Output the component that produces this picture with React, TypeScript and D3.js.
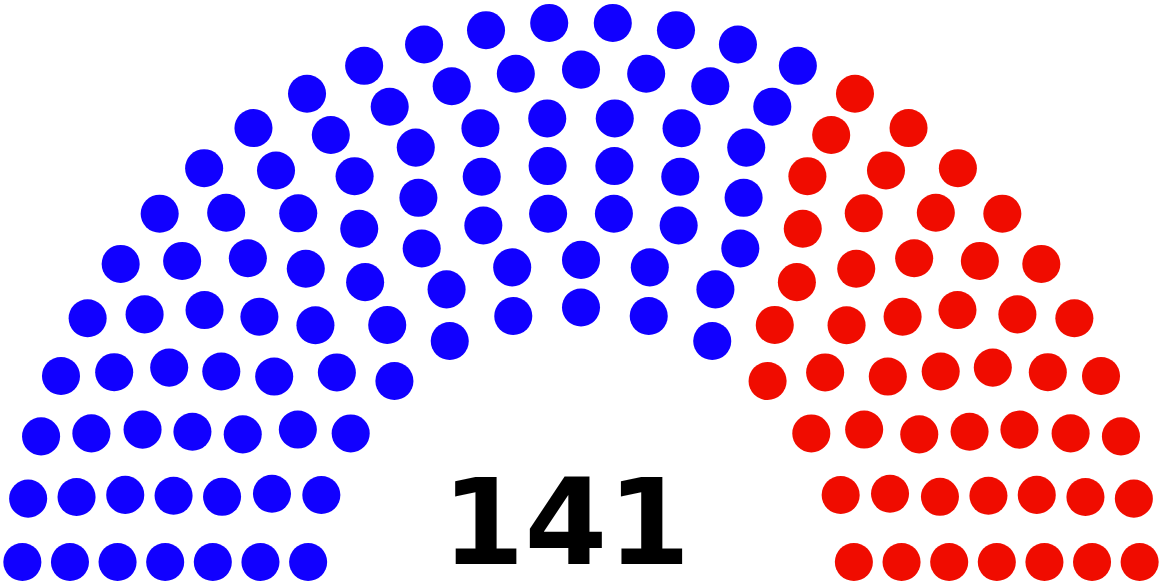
import React from "react";
import * as d3 from "d3";

// ---- data ----
const partyNames: string[] = ["Blue", "Red"];
const partySeats: number[] = [92, 49];
const totalLabel: string = "141";

// Seat-capacity totals used by the classic parliament-diagram layout
const rowTotals: number[] = [3, 15, 33, 61, 95, 138, 189, 247, 313, 388, 469];

// ---- style ----
const WIDTH = 1163;
const HEIGHT = 584;
const partyColors: Record<string, string> = { Blue: "#1100ff", Red: "#f00c00" };

type Seat = { angle: number; x: number; y: number; r: number };

function layoutSeats(total: number): { seats: Seat[]; dotR: number; outerR: number } {
  let rows = 1;
  for (let i = 0; i < rowTotals.length; i++) {
    if (rowTotals[i] >= total) {
      rows = i + 1;
      break;
    }
  }
  const radius = 0.4 / rows;
  const seats: Seat[] = [];
  const pushRow = (J: number, R: number) => {
    if (J === 1) {
      seats.push({ angle: Math.PI / 2, x: R * Math.cos(Math.PI / 2), y: R, r: R });
      return;
    }
    for (let j = 0; j < J; j++) {
      const a0 = Math.sin(radius / R);
      const angle = (j * (Math.PI - 2 * a0)) / (J - 1) + a0;
      seats.push({ angle, x: R * Math.cos(angle), y: R * Math.sin(angle), r: R });
    }
  };
  for (let i = 1; i < rows; i++) {
    const J = Math.floor(
      (total / rowTotals[rows - 1]) * Math.PI / (2 * Math.asin(2 / (3 * rows + 4 * i - 2)))
    );
    const R = (3 * rows + 4 * i - 2) / (4 * rows);
    pushRow(J, R);
  }
  const Rlast = (7 * rows - 2) / (4 * rows);
  pushRow(total - seats.length, Rlast);
  seats.sort((a, b) => b.angle - a.angle || b.x - a.x);
  return { seats, dotR: radius, outerR: Rlast };
}

export default function App() {
  const total = d3.sum(partySeats);
  const { seats, dotR, outerR } = layoutSeats(total);

  const scale = 333;
  const cx = 581;
  const baseY = 581;
  const xScale = d3.scaleLinear().domain([-outerR, outerR]).range([cx - outerR * scale, cx + outerR * scale]);
  const yScale = d3.scaleLinear().domain([0, outerR]).range([baseY, baseY - outerR * scale]);

  const cum = d3.cumsum(partySeats);
  const partyOf = (idx: number) => {
    for (let p = 0; p < cum.length; p++) if (idx < cum[p]) return partyNames[p];
    return partyNames[partyNames.length - 1];
  };

  return (
    <svg
      width={WIDTH}
      height={HEIGHT}
      style={{ position: "absolute", left: 0, top: 0, background: "#fff" }}
    >
      <rect width={WIDTH} height={HEIGHT} fill="#fff" />
      {seats.map((s, i) => (
        <circle
          key={i}
          cx={xScale(s.x)}
          cy={yScale(s.y)}
          r={dotR * scale}
          fill={partyColors[partyOf(i)]}
        />
      ))}
      <text
        x={566}
        y={564}
        textAnchor="middle"
        fontFamily="DejaVu Sans, sans-serif"
        fontWeight="bold"
        fontSize={119}
        fill="#000"
      >
        {totalLabel}
      </text>
    </svg>
  );
}
